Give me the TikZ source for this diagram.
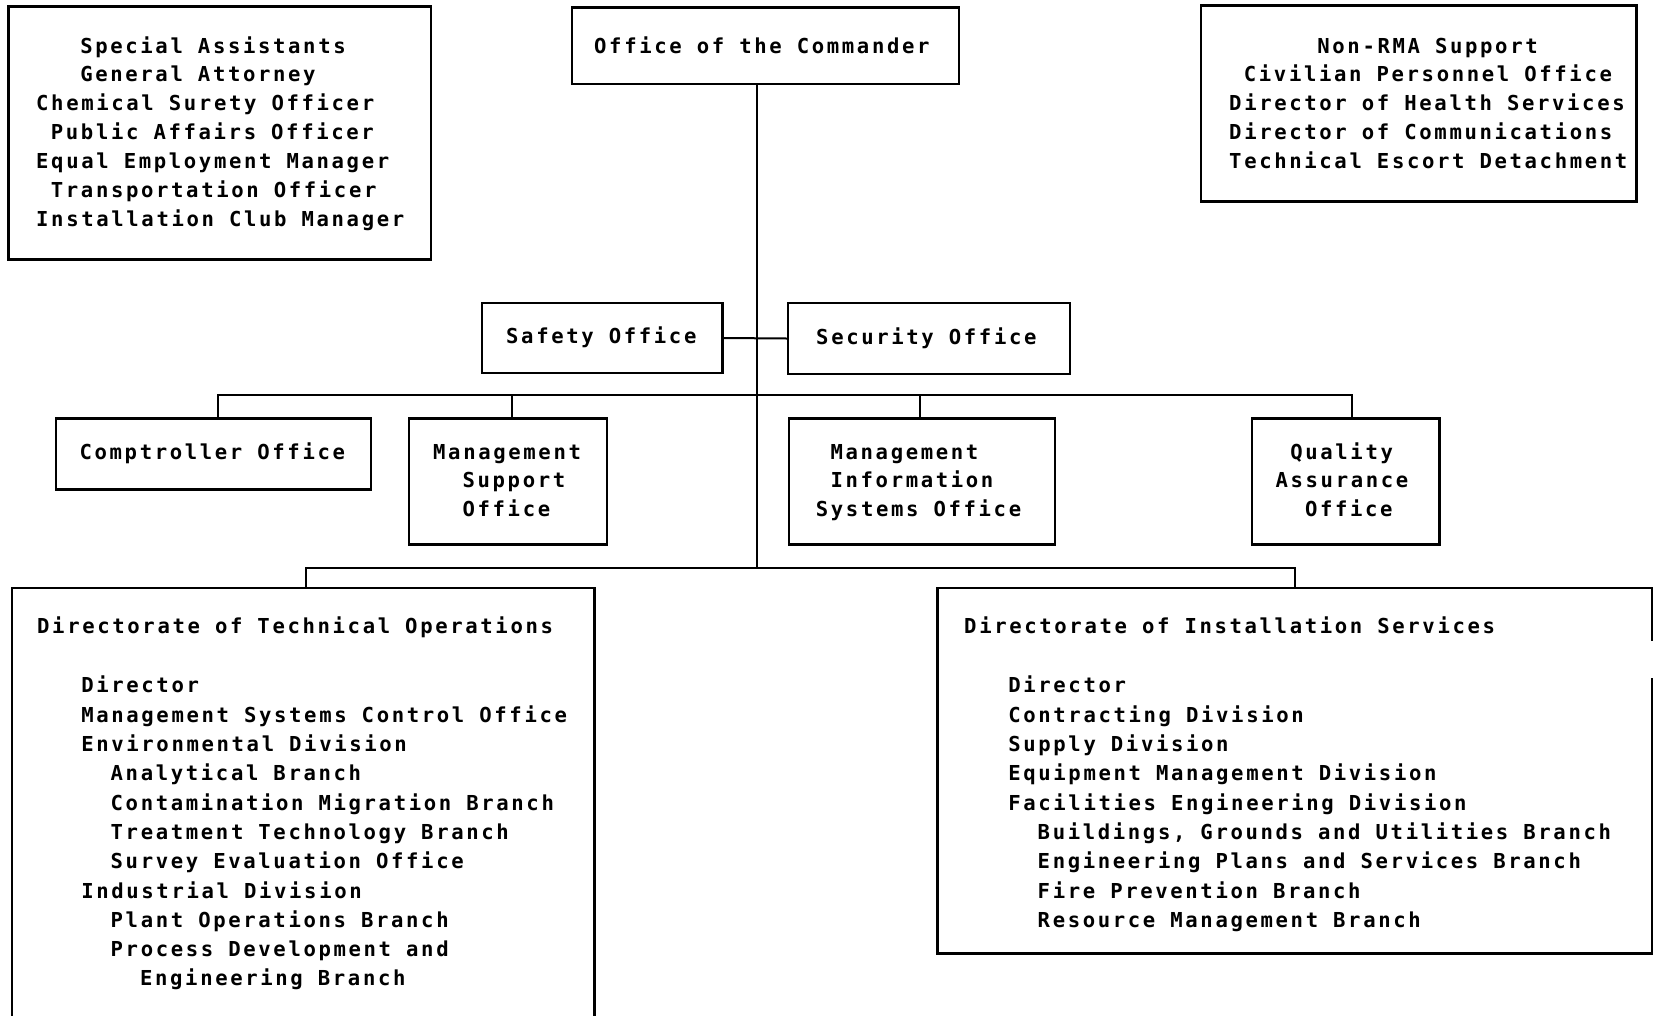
\documentclass[tikz,border=0pt]{standalone}
\usepackage{fontspec}
\usetikzlibrary{fit,calc}
\newfontfamily\monoface[LetterSpace=12.8]{DejaVu Sans Mono}
\newcommand\chartfont{\monoface\bfseries\fontsize{20.6}{29}\selectfont}
\tikzset{
  orgbox/.style={draw, line width=2.4pt, inner sep=0pt},
  conn/.style={line width=2pt},
  txt/.style={inner sep=0pt, font=\chartfont, anchor=base west},
}
% prefix, x start, first baseline, line skip, list of indent/text
\newcommand\chartlines[5]{%
  \foreach \lind/\ltext [count=\li] in {#5}
    \node[txt] (#1-\li) at ({#2+\lind*14.7},{#3+(\li-1)*#4}) {\ltext};}
\begin{document}
\begin{tikzpicture}[x=1pt,y=-1pt]
\useasboundingbox (0,0) rectangle (1661,1015);
\clip (0,0) rectangle (1661,1015);
\fill[white] (0,0) rectangle (1661,1015);

% boxes
\node[orgbox, fit={(8.5,6.4) (431,259.5)}] (assist) {};
\node[orgbox, fit={(572,7.4) (958.7,83.7)}] (commander) {};
\node[orgbox, fit={(1201,5.3) (1636.6,201.3)}] (nonrma) {};
\node[orgbox, fit={(482,303) (722.4,373)}] (safety) {};
\node[orgbox, fit={(788,303) (1070,374)}] (security) {};
\node[orgbox, fit={(56.1,418.4) (370.8,489.4)}] (cmp) {};
\node[orgbox, fit={(408.9,418.4) (607,544.5)}] (mso) {};
\node[orgbox, fit={(789.2,418.4) (1055,544.5)}] (mis) {};
\node[orgbox, fit={(1252,418.4) (1439.6,544.5)}] (qa) {};
\node[orgbox, fit={(11.7,588) (594.3,1045)}] (dto) {};
\node[inner sep=0pt, fit={(937.5,588) (1652,953.4)}] (dis) {};
\draw[line width=2.4pt] (dis.north east) ++(0,53) -- (dis.north east) -- (dis.north west)
  -- (dis.south west) -- (dis.south east) -- ++(0,-275.4);

% texts
\chartlines{assist}{36}{53}{28.97}{3/Special Assistants, 3/General Attorney,
  0/Chemical Surety Officer, 1/Public Affairs Officer, 0/Equal Employment Manager,
  1/Transportation Officer, 0/Installation Club Manager}
\chartlines{commander}{594}{53}{29}{0/Office of the Commander}
\chartlines{nonrma}{1229}{53}{28.9}{6/Non-RMA Support, 1/Civilian Personnel Office,
  0/Director of Health Services, 0/Director of Communications,
  0/Technical Escort Detachment}
\chartlines{safety}{506}{343}{29}{0/Safety Office}
\chartlines{security}{816}{344}{29}{0/Security Office}
\chartlines{cmp}{79.4}{459}{29}{0/Comptroller Office}
\chartlines{mso}{433}{459}{28.6}{0/Management, 2/Support, 2/Office}
\chartlines{mis}{815.7}{459}{28.6}{1/Management, 1/Information, 0/Systems Office}
\chartlines{qa}{1275.4}{459}{28.6}{1/Quality, 0/Assurance, 2/Office}
\chartlines{dtotitle}{37}{633.5}{29.3}{0/Directorate of Technical Operations}
\chartlines{dtoitems}{37}{692.9}{29.3}{3/Director, 3/Management Systems Control Office,
  3/Environmental Division, 5/Analytical Branch, 5/Contamination Migration Branch,
  5/Treatment Technology Branch, 5/Survey Evaluation Office, 3/Industrial Division,
  5/Plant Operations Branch, 5/Process Development and, 7/Engineering Branch}
\chartlines{distitle}{964}{633.5}{29.3}{0/Directorate of Installation Services}
\chartlines{disitems}{964}{692.9}{29.3}{3/Director, 3/Contracting Division,
  3/Supply Division, 3/Equipment Management Division, 3/Facilities Engineering Division,
  5/{Buildings, Grounds and Utilities Branch}, 5/Engineering Plans and Services Branch,
  5/Fire Prevention Branch, 5/Resource Management Branch}

% connectors
\coordinate (jbus) at (757.4,395);
\coordinate (jdir) at (757.4,567.8);
\coordinate (cmptop) at ($(cmp.north)+(4.5,0)$);
\coordinate (msotop) at ($(mso.north)+(3.6,0)$);
\coordinate (mistop) at ($(mis.north)+(-2.5,0)$);
\coordinate (qatop) at ($(qa.north)+(6,0)$);
\coordinate (dtotop) at ($(dto.north)+(3,0)$);
\draw[conn] (commander.south -| jdir) -- (jdir);
\draw[conn] (safety.east) -- (security.west);
\draw[conn] (cmptop) |- (jbus) -| (qatop);
\draw[conn] (msotop) -- (msotop |- jbus);
\draw[conn] (mistop) -- (mistop |- jbus);
\draw[conn] (dtotop) |- (jdir) -| (dis.north);
\end{tikzpicture}
\end{document}
